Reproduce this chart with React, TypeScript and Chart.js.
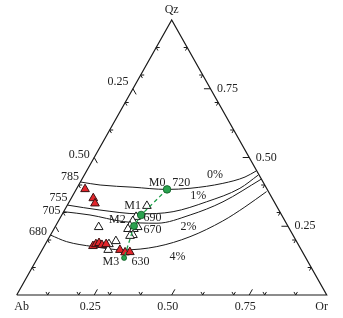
import React, { useEffect, useRef } from "react";
import { Chart, registerables } from "chart.js";

Chart.register(...registerables);

// Ternary compositions as fractions: Qz and Or (Ab = 1 - Qz - Or)
const redQz = [0.385, 0.352, 0.333, 0.178, 0.185, 0.189, 0.182, 0.185, 0.164, 0.155, 0.156];
const redOr = [0.028, 0.071, 0.086, 0.157, 0.163, 0.171, 0.184, 0.196, 0.251, 0.272, 0.287];

const openQz = [0.247, 0.185, 0.196, 0.164, 0.324, 0.284, 0.269, 0.251, 0.24, 0.24, 0.247, 0.218, 0.215];
const openOr = [0.141, 0.205, 0.222, 0.213, 0.258, 0.243, 0.24, 0.24, 0.239, 0.258, 0.267, 0.266, 0.258];

const meltNames = ["M0", "M1", "M2", "M3"];
const meltTemps = ["720", "690", "670", "630"];
const meltQz = [0.384, 0.291, 0.251, 0.135];
const meltOr = [0.293, 0.256, 0.253, 0.279];

const curveNames = ["0%", "1%", "2%", "4%"];
const curveTemps = ["785", "755", "705", "680"];
const curve0Qz = [0.411, 0.4, 0.392, 0.384, 0.388, 0.406, 0.429, 0.451];
const curve0Or = [0.0, 0.069, 0.179, 0.292, 0.365, 0.462, 0.522, 0.547];
const curve1Qz = [0.327, 0.309, 0.295, 0.303, 0.339, 0.388, 0.436];
const curve1Or = [0.0, 0.114, 0.25, 0.353, 0.443, 0.526, 0.561];
const curve2Qz = [0.303, 0.291, 0.267, 0.261, 0.291, 0.339, 0.421];
const curve2Or = [0.0, 0.091, 0.21, 0.322, 0.414, 0.496, 0.578];
const curve4Qz = [0.218, 0.194, 0.176, 0.164, 0.176, 0.212, 0.269, 0.32, 0.376];
const curve4Or = [0.0, 0.064, 0.159, 0.262, 0.364, 0.453, 0.53, 0.576, 0.618];

const vertexNames = ["Qz", "Ab", "Or"];
const bottomTickValues = [0.25, 0.5, 0.75];
const leftTickValues = [0.25, 0.5];
const rightTickValues = [0.75, 0.5, 0.25];
const minorTickValues = [0.1, 0.2, 0.3, 0.4, 0.6, 0.7, 0.8, 0.9];
const majorTickValues = [0.25, 0.5, 0.75];

const toXY = (qz: number[], or: number[]) => qz.map((q, i) => ({ x: or[i] + q / 2, y: q }));

// text annotation anchors in chart coordinates (x along base, y = Qz)
const curveTempPos = [
  [0.172, 0.43],
  [0.135, 0.355],
  [0.112, 0.307],
  [0.069, 0.23],
];
const curveNamePos = [
  [0.64, 0.438],
  [0.586, 0.362],
  [0.554, 0.247],
  [0.519, 0.138],
];
const meltNamePos = [
  [0.453, 0.408],
  [0.374, 0.325],
  [0.325, 0.274],
  [0.304, 0.121],
];
const meltTempPos = [
  [0.531, 0.408],
  [0.438, 0.282],
  [0.438, 0.236],
  [0.399, 0.121],
];

const FONT = '12px "Liberation Serif", "Times New Roman", serif';

const ternaryPlugin = {
  id: "ternaryDecor",
  afterDraw(chart: any) {
    const ctx = chart.ctx;
    const xs = chart.scales.x;
    const ys = chart.scales.y;
    const P = (qz: number, or: number) => [xs.getPixelForValue(or + qz / 2), ys.getPixelForValue(qz)];
    const C = (x: number, y: number) => [xs.getPixelForValue(x), ys.getPixelForValue(y)];
    const A = P(0, 0);
    const O = P(0, 1);
    const Q = P(1, 0);
    const norm = (a: number[], b: number[]) => {
      const dx = b[0] - a[0];
      const dy = b[1] - a[1];
      const l = Math.hypot(dx, dy);
      return [dx / l, dy / l];
    };
    const uAQ = norm(A, Q);
    const uOQ = norm(O, Q);
    const uAO = norm(A, O);
    const neg = (v: number[]) => [-v[0], -v[1]];

    ctx.save();
    ctx.strokeStyle = "#1a1a1a";
    ctx.lineWidth = 1;
    const seg = (p: number[], d: number[], len: number) => {
      ctx.beginPath();
      ctx.moveTo(p[0], p[1]);
      ctx.lineTo(p[0] + d[0] * len, p[1] + d[1] * len);
      ctx.stroke();
    };
    minorTickValues.forEach((t) => {
      const b = P(0, t);
      seg(b, uAQ, 3.5);
      seg(b, uOQ, 3.5);
      const l = P(1 - t, 0);
      seg(l, uAO, 3.5);
      seg(l, neg(uOQ), 3.5);
      const r = P(t, 1 - t);
      seg(r, neg(uAO), 3.5);
      seg(r, neg(uAQ), 3.5);
    });
    majorTickValues.forEach((t) => {
      seg(P(0, t), uAQ, 6.5);
      seg(P(1 - t, 0), neg(uOQ), 6.5);
      seg(P(t, 1 - t), neg(uAO), 6.5);
    });

    ctx.fillStyle = "#222";
    ctx.font = FONT;
    ctx.textAlign = "center";
    ctx.textBaseline = "middle";
    ctx.fillText(vertexNames[0], Q[0], Q[1] - 10);
    ctx.fillText(vertexNames[1], A[0] + 5, A[1] + 12);
    ctx.fillText(vertexNames[2], O[0] - 5, O[1] + 12);
    bottomTickValues.forEach((t) => {
      const p = P(0, t);
      ctx.fillText(t.toFixed(2), p[0] - 4, p[1] + 12);
    });
    leftTickValues.forEach((t, i) => {
      const p = P(1 - t, 0);
      ctx.fillText(t.toFixed(2), p[0] - 15, p[1] - (i === 0 ? 7 : 3));
    });
    rightTickValues.forEach((t) => {
      const p = P(t, 1 - t);
      ctx.fillText(t.toFixed(2), p[0] + 17, p[1]);
    });
    curveTemps.forEach((s, i) => {
      const p = C(curveTempPos[i][0], curveTempPos[i][1]);
      ctx.fillText(s, p[0], p[1]);
    });
    curveNames.forEach((s, i) => {
      const p = C(curveNamePos[i][0], curveNamePos[i][1]);
      ctx.fillText(s, p[0], p[1]);
    });
    meltNames.forEach((s, i) => {
      const p = C(meltNamePos[i][0], meltNamePos[i][1]);
      ctx.fillText(s, p[0], p[1]);
    });
    meltTemps.forEach((s, i) => {
      const p = C(meltTempPos[i][0], meltTempPos[i][1]);
      ctx.fillText(s, p[0], p[1]);
    });
    ctx.restore();
  },
};

export default function App() {
  const ref = useRef<HTMLCanvasElement | null>(null);
  useEffect(() => {
    if (!ref.current) return;
    const curveDs = (qz: number[], or: number[]) => ({
      data: toXY(qz, or),
      showLine: true,
      cubicInterpolationMode: "monotone" as const,
      borderColor: "#1a1a1a",
      borderWidth: 1,
      pointRadius: 0,
      fill: false,
      clip: false as any,
      order: 10,
    });
    const chart = new Chart(ref.current, {
      type: "scatter",
      data: {
        datasets: [
          {
            data: toXY([0, 0, 1, 0], [0, 1, 0, 0]),
            showLine: true,
            tension: 0,
            borderColor: "#1a1a1a",
            borderWidth: 1.2,
            pointRadius: 0,
            clip: false as any,
            order: 20,
          },
          curveDs(curve0Qz, curve0Or),
          curveDs(curve1Qz, curve1Or),
          curveDs(curve2Qz, curve2Or),
          curveDs(curve4Qz, curve4Or),
          {
            data: toXY(openQz, openOr),
            pointStyle: "triangle",
            pointRadius: 5,
            backgroundColor: "#ffffff",
            borderColor: "#1a1a1a",
            borderWidth: 1,
            clip: false as any,
            order: 5,
          },
          {
            data: toXY(redQz, redOr),
            pointStyle: "triangle",
            pointRadius: 5,
            backgroundColor: "#e3252b",
            borderColor: "#3a1212",
            borderWidth: 1,
            clip: false as any,
            order: 4,
          },
          {
            data: toXY(meltQz, meltOr),
            showLine: true,
            tension: 0,
            borderColor: "#1f9e4a",
            borderWidth: 1.3,
            borderDash: [4, 3],
            pointStyle: "circle",
            pointRadius: [3.8, 3.8, 3.5, 2.5],
            pointBackgroundColor: "#2aa24f",
            pointBorderColor: "#0d5a22",
            pointBorderWidth: 0.8,
            clip: false as any,
            order: 2,
          },
        ],
      },
      options: {
        animation: false,
        responsive: false,
        devicePixelRatio: 1,
        events: [],
        layout: { padding: { left: 16.7, right: 16.3, top: 20, bottom: 23 } },
        plugins: { legend: { display: false }, tooltip: { enabled: false } },
        scales: {
          x: { type: "linear", min: 0, max: 1, display: false },
          y: { type: "linear", min: 0, max: 1, display: false },
        },
      },
      plugins: [ternaryPlugin],
    });
    return () => chart.destroy();
  }, []);
  return (
    <div style={{ position: "fixed", left: 0, top: 0, width: 343, height: 318, background: "#fff" }}>
      <canvas ref={ref} width={343} height={318} style={{ width: 343, height: 318 }} />
    </div>
  );
}
